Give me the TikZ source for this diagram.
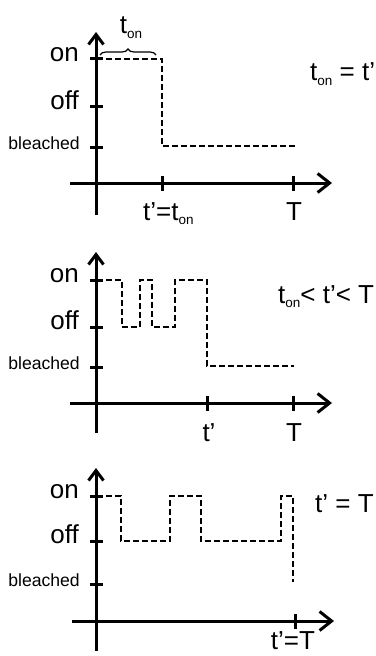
\documentclass[tikz,border=0pt]{standalone}
\usepackage{fontspec}
\setmainfont{Liberation Sans}
\usetikzlibrary{arrows.meta,decorations.pathreplacing}
\newcommand\subtx[1]{\raisebox{-0.16em}{\fontsize{13.5bp}{13.5bp}\selectfont #1}}
\begin{document}
\begin{tikzpicture}[x=1bp,y=-1bp,
  axis/.style={line width=3bp},
  yarr/.style={-{Straight Barb[length=10bp,width=15bp]}},
  xarr/.style={-{Straight Barb[length=12bp,width=19bp]}},
  sig/.style={line width=2.6bp,dash pattern=on 6bp off 3bp},
  tickm/.style={line width=3bp},
  big/.style={font=\fontsize{26bp}{30bp}\selectfont, inner sep=0pt},
  small/.style={font=\fontsize{17.6bp}{20bp}\selectfont, inner sep=0pt}]
\useasboundingbox (0,0) rectangle (375,656);

% ---------- panel 1 ----------
\coordinate (y1b) at (96,215); \coordinate (y1t) at (96,32);
\coordinate (x1l) at (70,183); \coordinate (x1r) at (332,183);
\draw[axis,yarr] (y1b) -- (y1t);
\draw[axis,xarr] (x1l) -- (x1r);
\draw[tickm] (90,59) -- (103,59);
\draw[tickm] (90,107) -- (103,107);
\draw[tickm] (90,147) -- (103,147);
\draw[tickm] (162,176) -- (162,191);
\draw[tickm] (293,176) -- (293,191);
\node[big,anchor=mid east] (on1) at (79,59) {on};
\node[big,anchor=mid east] (off1) at (79,107) {off};
\node[small,anchor=mid east] (bl1) at (80,147) {bleached};
\draw[sig] (97,59) -- (162,59) -- (162,146) -- (295,146);
\draw[line width=1.2bp,decorate,decoration={brace,amplitude=6bp}] (100,55) -- (156,55);
\node[big,anchor=base] (ton1) at (131,34) {t\subtx{on}};
\node[big,anchor=base west] (eq1) at (310,81) {t\subtx{on} = t’};
\node[big,anchor=base west] (xl1a) at (143,220) {t’=t\subtx{on}};
\node[big,anchor=base] (xl1b) at (294,220) {T};

% ---------- panel 2 ----------
\coordinate (y2b) at (96,433); \coordinate (y2t) at (96,252);
\coordinate (x2l) at (70,403); \coordinate (x2r) at (332,403);
\draw[axis,yarr] (y2b) -- (y2t);
\draw[axis,xarr] (x2l) -- (x2r);
\draw[tickm] (90,280) -- (103,280);
\draw[tickm] (90,327) -- (103,327);
\draw[tickm] (90,367) -- (103,367);
\draw[tickm] (207,396) -- (207,411);
\draw[tickm] (293,396) -- (293,411);
\node[big,anchor=mid east] (on2) at (79,280) {on};
\node[big,anchor=mid east] (off2) at (79,327) {off};
\node[small,anchor=mid east] (bl2) at (80,367) {bleached};
\draw[sig] (97,280) -- (122,280) -- (122,327) -- (140,327) -- (140,280)
  -- (152,280) -- (152,327) -- (175,327) -- (175,280) -- (207,280)
  -- (207,366) -- (294,366);
\node[big,anchor=base west] (eq2) at (278,303) {t\subtx{on}< t’< T};
\node[big,anchor=base] (xl2a) at (209,441) {t’};
\node[big,anchor=base] (xl2b) at (294,441) {T};

% ---------- panel 3 ----------
\coordinate (y3b) at (96,651); \coordinate (y3t) at (96,468);
\coordinate (x3l) at (72,621); \coordinate (x3r) at (334,621);
\draw[axis,yarr] (y3b) -- (y3t);
\draw[axis,xarr] (x3l) -- (x3r);
\draw[tickm] (90,496) -- (103,496);
\draw[tickm] (90,541) -- (103,541);
\draw[tickm] (90,584) -- (103,584);
\draw[tickm] (295,614) -- (295,629);
\node[big,anchor=mid east] (on3) at (79,496) {on};
\node[big,anchor=mid east] (off3) at (79,541) {off};
\node[small,anchor=mid east] (bl3) at (80,584) {bleached};
\draw[sig] (97,496) -- (121,496) -- (121,541) -- (170,541) -- (170,496)
  -- (201,496) -- (201,541) -- (281,541) -- (281,496) -- (293,496)
  -- (293,582);
\node[big,anchor=base west] (eq3) at (315,512) {t’ = T};
\node[big,anchor=base] (xl3) at (293,649) {t’=T};
\end{tikzpicture}
\end{document}
